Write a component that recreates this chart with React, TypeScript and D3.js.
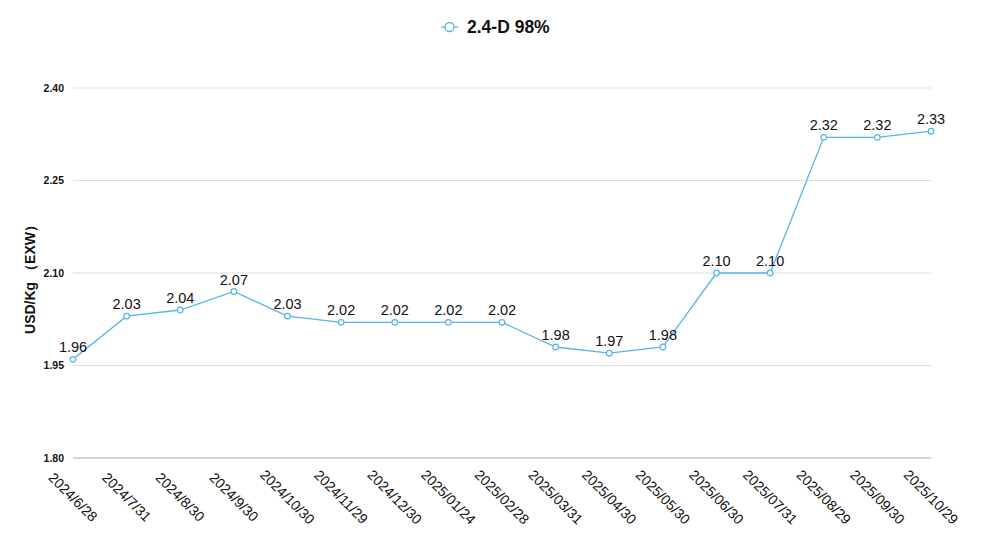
import { useEffect, useRef } from "react";
import * as d3 from "d3";

const dates = [
  "2024/6/28", "2024/7/31", "2024/8/30", "2024/9/30", "2024/10/30",
  "2024/11/29", "2024/12/30", "2025/01/24", "2025/02/28", "2025/03/31",
  "2025/04/30", "2025/05/30", "2025/06/30", "2025/07/31", "2025/08/29",
  "2025/09/30", "2025/10/29",
];
const prices = [
  1.96, 2.03, 2.04, 2.07, 2.03, 2.02, 2.02, 2.02, 2.02, 1.98, 1.97, 1.98,
  2.1, 2.1, 2.32, 2.32, 2.33,
];
const yTicks = [1.8, 1.95, 2.1, 2.25, 2.4];
const seriesName = "2.4-D 98%";
const yTitle = "USD/Kg （EXW）";

const W = 982;
const H = 551;
const FONT = "Helvetica, Arial, 'Liberation Sans', sans-serif";
const BLUE = "#56b4ea";

export default function App() {
  const ref = useRef<SVGSVGElement>(null);

  useEffect(() => {
    if (!ref.current) return;
    const svg = d3.select(ref.current);
    svg.selectAll("*").remove();

    const left = 73;
    const right = 931;
    const top = 88;
    const bottom = 458;

    const x = d3.scalePoint<string>().domain(dates).range([left, right]);
    const y = d3.scaleLinear().domain([1.8, 2.4]).range([bottom, top]);

    svg.append("rect").attr("width", W).attr("height", H).attr("fill", "#fff");

    // grid
    const grid = svg.append("g");
    yTicks.forEach((t) => {
      grid
        .append("line")
        .attr("x1", left)
        .attr("x2", right)
        .attr("y1", y(t))
        .attr("y2", y(t))
        .attr("stroke", t === 1.8 ? "#aaa" : "#ddd")
        .attr("stroke-width", 1);
      grid
        .append("text")
        .attr("x", 64)
        .attr("y", y(t))
        .attr("dy", "0.35em")
        .attr("text-anchor", "end")
        .attr("font-family", FONT)
        .attr("font-weight", "bold")
        .attr("font-size", 10.5)
        .attr("fill", "#111")
        .text(t.toFixed(2));
    });

    // y title
    svg
      .append("text")
      .attr("transform", `translate(35,${y(2.1) + 3}) rotate(-90)`)
      .attr("text-anchor", "middle")
      .attr("font-family", FONT)
      .attr("font-weight", "bold")
      .attr("font-size", 14)
      .attr("fill", "#111")
      .text(yTitle);

    // x labels
    dates.forEach((d) => {
      svg
        .append("text")
        .attr("transform", `translate(${x(d)},497) rotate(45)`)
        .attr("text-anchor", "middle")
        .attr("dy", "0.35em")
        .attr("font-family", FONT)
        .attr("font-size", 14)
        .attr("fill", "#111")
        .text(d);
    });

    const pts = dates.map((d, i) => ({ d, v: prices[i] }));

    const line = d3
      .line<{ d: string; v: number }>()
      .x((p) => x(p.d)!)
      .y((p) => y(p.v));

    svg
      .append("path")
      .datum(pts)
      .attr("d", line)
      .attr("fill", "none")
      .attr("stroke", BLUE)
      .attr("stroke-width", 1.3);

    svg
      .append("g")
      .selectAll("circle")
      .data(pts)
      .join("circle")
      .attr("cx", (p) => x(p.d)!)
      .attr("cy", (p) => y(p.v))
      .attr("r", 2.8)
      .attr("fill", "#fff")
      .attr("stroke", BLUE)
      .attr("stroke-width", 1.2);

    svg
      .append("g")
      .selectAll("text")
      .data(pts)
      .join("text")
      .attr("x", (p) => x(p.d)!)
      .attr("y", (p) => y(p.v) - 7)
      .attr("text-anchor", "middle")
      .attr("font-family", FONT)
      .attr("font-size", 14.5)
      .attr("fill", "#111")
      .text((p) => p.v.toFixed(2));

    // legend
    const lg = svg.append("g");
    lg.append("line")
      .attr("x1", 441)
      .attr("x2", 458)
      .attr("y1", 27)
      .attr("y2", 27)
      .attr("stroke", BLUE)
      .attr("stroke-width", 1.3);
    lg.append("circle")
      .attr("cx", 449.5)
      .attr("cy", 27)
      .attr("r", 4.5)
      .attr("fill", "#fff")
      .attr("stroke", BLUE)
      .attr("stroke-width", 1.3);
    lg.append("text")
      .attr("x", 467)
      .attr("y", 27)
      .attr("dy", "0.35em")
      .attr("font-family", FONT)
      .attr("font-weight", "bold")
      .attr("font-size", 17.5)
      .attr("fill", "#111")
      .text(seriesName);
  }, []);

  return (
    <svg
      ref={ref}
      width={W}
      height={H}
      style={{ display: "block", position: "absolute", left: 0, top: 0 }}
    />
  );
}
